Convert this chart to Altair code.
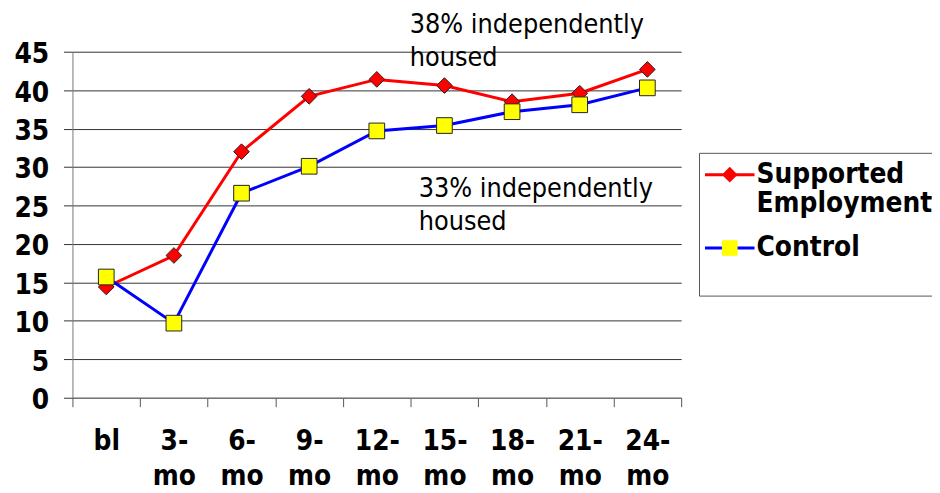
import altair as alt
import pandas as pd

categories = ["bl", "3-mo", "6-mo", "9-mo", "12-mo", "15-mo", "18-mo", "21-mo", "24-mo"]
series_names = ["Supported Employment", "Control"]
supported = [14.4, 18.5, 32.0, 39.2, 41.4, 40.6, 38.5, 39.6, 42.7]
control = [15.7, 9.7, 26.6, 30.1, 34.7, 35.4, 37.2, 38.1, 40.3]
y_ticks = [0, 5, 10, 15, 20, 25, 30, 35, 40, 45]

line_colors = ["#FF0000", "#0000FF"]
marker_fills = ["#FF0000", "#FFFF00"]
marker_shapes = ["diamond", "square"]

note_texts = ["38% independently\nhoused", "33% independently\nhoused"]
note_periods = ["15-mo", "15-mo"]
note_values = [47.4, 26.1]

rows = []
for name, vals in zip(series_names, [supported, control]):
    for c, v in zip(categories, vals):
        rows.append({"period": c, "value": v, "series": name})
df = pd.DataFrame(rows)

notes = pd.DataFrame({"text": note_texts, "period": note_periods, "value": note_values})

FONT = "DejaVu Sans Condensed, DejaVu Sans"

x_scale = alt.Scale(type="band", domain=categories, paddingInner=0, paddingOuter=0)
y_scale = alt.Scale(domain=[0, 45], nice=False, zero=True)

x_enc = alt.X(
    "period:N",
    scale=x_scale,
    axis=alt.Axis(
        title=None, labelAngle=0,
        labelExpr="split(replace(datum.label, '-', '-|'), '|')",
        labelFont=FONT, labelFontSize=28, labelFontWeight="bold", labelColor="black",
        labelLineHeight=36, labelPadding=21, labelOverlap=False,
        tickBand="extent", tickSize=9, tickColor="#555", domainColor="#777",
        grid=False,
    ),
)
y_enc = alt.Y(
    "value:Q",
    scale=y_scale,
    axis=alt.Axis(
        title=None, values=y_ticks, tickCount=len(y_ticks), labelOverlap=False,
        labelFont=FONT, labelFontSize=28, labelFontWeight="bold", labelColor="black",
        labelPadding=15, labelOffset=3, tickSize=9, tickColor="#333",
        domainColor="#777", grid=True, gridColor="#333",
    ),
)

common_legend = dict(
    orient="none", legendX=632, legendY=102, direction="vertical", padding=8,
    labelFont=FONT, labelFontSize=28, labelFontWeight="bold",
    labelLimit=400, labelExpr="split(datum.label, ' ')",
    symbolOffset=9, labelOffset=13, rowPadding=16,
)

legend_lines = alt.Legend(
    title=" ", titleOrient="bottom", titleFontSize=20, titlePadding=6,
    strokeColor="#555", fillColor="white", labelColor="black",
    symbolType="M-3.1,0H3.1", symbolSize=260, symbolStrokeWidth=3, zindex=0,
    **common_legend,
)
legend_marks = alt.Legend(
    title=None, labelColor="transparent",
    symbolSize=250, symbolStrokeWidth=1, symbolStrokeColor="#222", zindex=1,
    **common_legend,
)

lines = alt.Chart(df).mark_line(strokeWidth=3).encode(
    x=x_enc, y=y_enc,
    color=alt.Color("series:N", scale=alt.Scale(domain=series_names, range=line_colors), legend=legend_lines),
)

points = alt.Chart(df).mark_point(filled=True, size=250, opacity=1, stroke="#222", strokeWidth=1).encode(
    x=x_enc, y=y_enc,
    fill=alt.Fill("series:N", scale=alt.Scale(domain=series_names, range=marker_fills), legend=legend_marks),
    shape=alt.Shape("series:N", scale=alt.Scale(domain=series_names, range=marker_shapes), legend=legend_marks),
)

note1 = alt.Chart(notes.iloc[[0]]).mark_text(
    align="left", baseline="alphabetic", font=FONT, fontSize=27, lineHeight=33,
    lineBreak="\n", color="black", dx=-35,
).encode(x=x_enc, y=y_enc, text="text:N")

note2 = alt.Chart(notes.iloc[[1]]).mark_text(
    align="left", baseline="alphabetic", font=FONT, fontSize=27, lineHeight=33,
    lineBreak="\n", color="black", dx=-26,
).encode(x=x_enc, y=y_enc, text="text:N")

chart = (
    alt.layer(lines, points, note1, note2)
    .resolve_legend(color="independent")
    .properties(
        width=614, height=349,
        autosize=alt.AutoSizeParams(type="none"),
        padding={"left": 65, "top": 42, "right": 253, "bottom": 94},
        background="white",
    )
    .configure_view(strokeWidth=0)
)

chart.save("out.html", embed_options={"renderer": "svg", "actions": False})
